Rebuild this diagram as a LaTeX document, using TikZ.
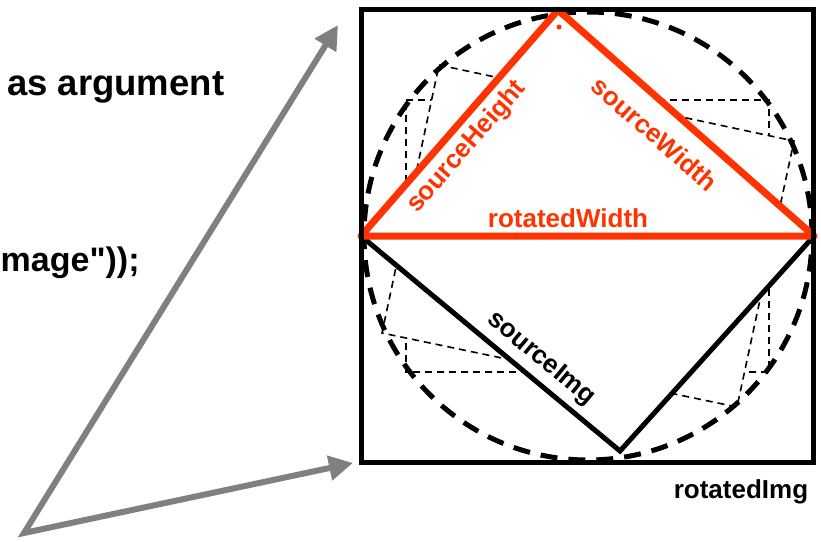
\documentclass[tikz,border=0pt]{standalone}
\usepackage{fontspec}
\setmainfont{Liberation Sans}
\newfontfamily\codefont{Liberation Sans}[Ligatures=TeXOff]
\usetikzlibrary{arrows.meta}
\definecolor{redorange}{RGB}{255,51,0}
\definecolor{arrowgray}{RGB}{128,128,128}
\begin{document}
\begin{tikzpicture}[x=1pt,y=-1pt,
  thindash/.style={draw=black, fill=white, line width=1.6pt, dash pattern=on 7pt off 5pt},
  bigdash/.style={draw=black, line width=5pt, dash pattern=on 17pt off 11pt},
  redline/.style={draw=redorange, line width=7pt, line join=round, line cap=round},
  blackline/.style={draw=black, line width=5pt, line join=miter},
  frame/.style={draw=black, line width=5pt},
  graylink/.style={draw=arrowgray, line width=6pt, line join=miter,
    {Triangle[length=24pt,width=24pt]}-{Triangle[length=24pt,width=24pt]}},
  redlabel/.style={text=redorange, font=\fontsize{26}{31}\selectfont\bfseries, inner sep=0pt},
  blacklabel/.style={text=black, font=\fontsize{26}{31}\selectfont\bfseries, inner sep=0pt},
  codetext/.style={text=black, inner sep=0pt, font=\codefont\fontsize{35}{42}\selectfont\bfseries}
]
\useasboundingbox (0,0) rectangle (821,541);
% key points
\coordinate (C) at (588,236);
\coordinate (L) at (361,236);
\coordinate (T) at (558,10);
\coordinate (R) at (814,236);
\coordinate (B) at (620,451);
% intermediate rotation states
\draw[thindash] (406,100) -- (769,100) -- (769,372) -- (406,372) -- cycle;
\draw[thindash] (439,65) -- (794,141) -- (737,407) -- (382,333) -- cycle;
% final rotated source image
\fill[white] (L) -- (T) -- (R) -- (B) -- cycle;
\draw[bigdash] (C) circle[radius=224pt];
\draw[blackline] (L) -- (B) -- (R);
\draw[redline] (L) -- (T) -- (R) -- cycle;
\fill[redorange] (559,27) circle[radius=2.5pt];
% outer rotated image frame
\draw[frame] (361,9) rectangle (813,462);
% labels
\node[redlabel, rotate=48.9] (sh) at (467,147) {sourceHeight};
\node[redlabel, rotate=-41.4] (sw) at (655,134) {sourceWidth};
\node[redlabel, anchor=base] (rw) at (568,227) {rotatedWidth};
\node[blacklabel, rotate=-39.8] (si) at (541,359) {sourceImg};
\node[blacklabel, anchor=base] (ri) at (741,498) {rotatedImg};
% code text
\node[codetext, anchor=base west, font=\codefont\fontsize{36.5}{43}\selectfont\bfseries] (arg) at (7,95) {as argument};
\node[codetext, anchor=base west, font=\codefont\fontsize{34}{41}\selectfont\bfseries] (img) at (0.5,271) {mage"));};
% arrows
\coordinate (src) at (24,533);
\coordinate (tipA) at (338,25);
\coordinate (tipB) at (353,463);
\draw[graylink] (tipA) -- (src) -- (tipB);
\end{tikzpicture}
\end{document}
